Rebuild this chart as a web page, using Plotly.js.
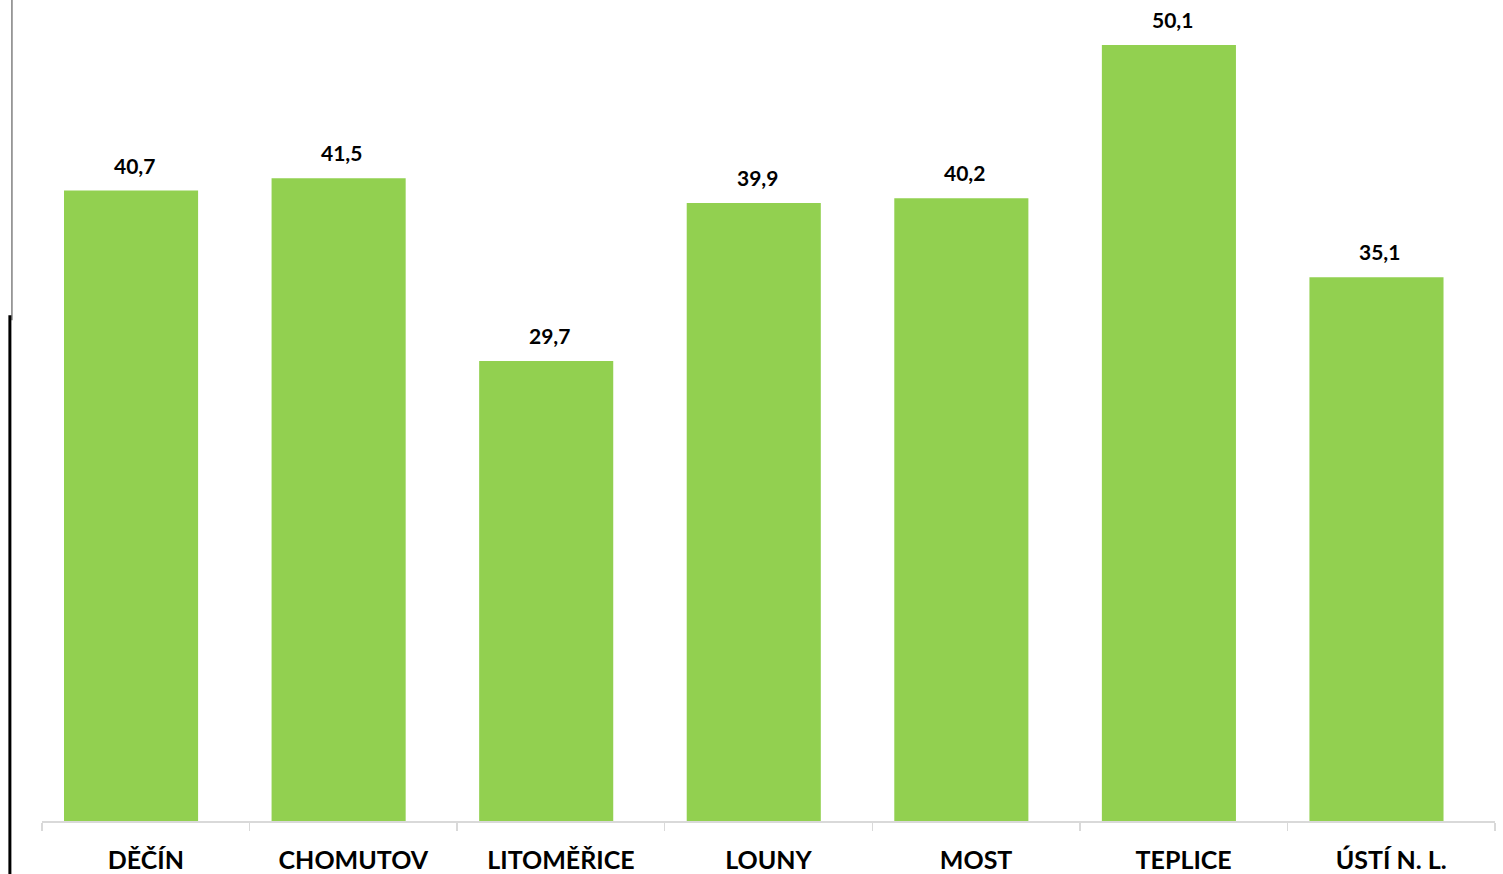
<!DOCTYPE html>
<html>
<head>
<meta charset="utf-8">
<script src="https://cdn.plot.ly/plotly-3.0.1.min.js"></script>
<style>html,body{margin:0;padding:0;background:#fff;}#chart{width:1503px;height:874px;}</style>
</head>
<body>
<div id="chart"></div>
<script>
const categories = ["DĚČÍN", "CHOMUTOV", "LITOMĚŘICE", "LOUNY", "MOST", "TEPLICE", "ÚSTÍ N. L."];
const values = [40.7, 41.5, 29.7, 39.9, 40.2, 50.1, 35.1];

const FONT = "Lato, 'Open Sans', sans-serif";
const BAR_WIDTH = 0.646;
const BAR_OFFSET = -0.394;

const trace = {
  type: "bar",
  x: categories,
  y: values,
  width: BAR_WIDTH,
  offset: BAR_OFFSET,
  marker: {color: "#92D050"},
  hoverinfo: "x+y"
};

const annotations = categories.map((c, i) => ({
  x: c,
  y: values[i],
  xref: "x",
  yref: "y",
  text: values[i].toFixed(1).replace(".", ","),
  showarrow: false,
  xanchor: "center",
  yanchor: "bottom",
  xshift: -11.5,
  yshift: 11,
  font: {family: FONT, size: 21, color: "#000", weight: "bold"}
}));

const layout = {
  width: 1503,
  height: 874,
  margin: {l: 42, r: 8, t: 0, b: 53},
  paper_bgcolor: "#ffffff",
  plot_bgcolor: "#ffffff",
  bargap: 0.355,
  showlegend: false,
  font: {family: FONT, color: "#000"},
  xaxis: {
    type: "category",
    showline: true,
    linecolor: "#d9d9d9",
    linewidth: 1.5,
    ticks: "outside",
    tickson: "boundaries",
    ticklen: 8,
    tickcolor: "#d9d9d9",
    tickwidth: 1.5,
    ticklabelstandoff: 16,
    tickfont: {family: FONT, size: 25, color: "#000", weight: "bold"},
    showgrid: false,
    zeroline: false
  },
  yaxis: {
    range: [0, 53],
    visible: false,
    showgrid: false,
    zeroline: false
  },
  annotations: annotations,
  shapes: [
    {type: "line", xref: "paper", yref: "paper", x0: -0.0207, x1: -0.0207, y0: 0.61, y1: 1.07, line: {color: "#808080", width: 1.5}},
    {type: "line", xref: "paper", yref: "paper", x0: -0.0221, x1: -0.0221, y0: -0.07, y1: 0.616, line: {color: "#000000", width: 3}}
  ]
};

Plotly.newPlot("chart", [trace], layout, {displayModeBar: false, staticPlot: true});
</script>
</body>
</html>
